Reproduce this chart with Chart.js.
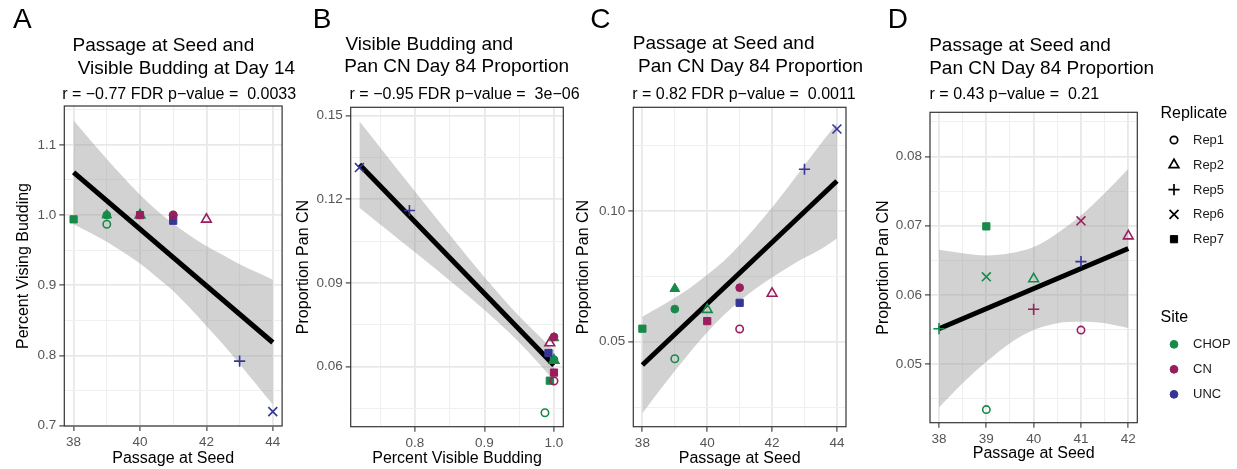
<!DOCTYPE html>
<html>
<head>
<meta charset="utf-8">
<script src="https://cdn.jsdelivr.net/npm/chart.js@4.4.1/dist/chart.umd.min.js"></script>
<style>
  body { margin: 0; background: #fff; width: 1237px; height: 469px; position: relative; overflow: hidden;
         font-family: "Liberation Sans", Arial, Helvetica, sans-serif; }
  canvas { position: absolute; top: 0; }
  .t { position: absolute; white-space: pre; line-height: 1; color: #000; }
  .letter { font-size: 28px; }
  .title { font-size: 19px; }
  .sub { font-size: 16px; }
</style>
</head>
<body>
<canvas id="chart-a" width="290" height="469" style="left:0px"></canvas>
<canvas id="chart-b" width="282" height="469" style="left:290px"></canvas>
<canvas id="chart-c" width="300" height="469" style="left:572px"></canvas>
<canvas id="chart-d" width="365" height="469" style="left:872px"></canvas>

<div class="t letter" style="left:13px;top:4.6px">A</div>
<div class="t title" style="left:72.5px;top:34.8px">Passage at Seed and</div>
<div class="t title" style="left:72.5px;top:57.5px"> Visible Budding at Day 14</div>
<div class="t sub" style="left:62.2px;top:85.6px">r = −0.77 FDR p−value =  0.0033</div>

<div class="t letter" style="left:312.8px;top:4.6px">B</div>
<div class="t title" style="left:345.5px;top:33.5px">Visible Budding and</div>
<div class="t title" style="left:344.2px;top:55.8px">Pan CN Day 84 Proportion</div>
<div class="t sub" style="left:349.6px;top:85.6px">r = −0.95 FDR p−value =  3e−06</div>

<div class="t letter" style="left:590.3px;top:4.6px">C</div>
<div class="t title" style="left:632.8px;top:32.5px">Passage at Seed and</div>
<div class="t title" style="left:632.8px;top:55.8px"> Pan CN Day 84 Proportion</div>
<div class="t sub" style="left:632.2px;top:85.6px">r = 0.82 FDR p−value =  0.0011</div>

<div class="t letter" style="left:887.8px;top:4.6px">D</div>
<div class="t title" style="left:929.2px;top:34.8px">Passage at Seed and</div>
<div class="t title" style="left:929.2px;top:57.5px">Pan CN Day 84 Proportion</div>
<div class="t sub" style="left:929.6px;top:85.6px">r = 0.43 p−value =  0.21</div>

<script>
/* ── Data: samples used in panels A-C ── */
const site    = ['CHOP', 'CHOP', 'CHOP', 'CHOP', 'CHOP', 'CN', 'CN', 'UNC', 'CN', 'CN', 'UNC', 'UNC'];
const rep     = ['Rep7', 'Rep4', 'Rep3', 'Rep1', 'Rep2', 'Rep7', 'Rep3', 'Rep7', 'Rep1', 'Rep2', 'Rep5', 'Rep6'];
const passage = [38, 39, 39, 39, 40, 40, 41, 41, 41, 42, 43, 44];
const budding = [0.994, 1.0, 1.0, 0.987, 1.0, 1.0, 1.0, 0.992, 1.0, 0.994, 0.792, 0.720];
const panCN   = [0.055, 0.0703, 0.0625, 0.0435, 0.0623, 0.0579, 0.0707, 0.0649, 0.0549, 0.0685, 0.116, 0.1314];

/* ── Data: samples used in panel D ── */
const siteD    = ['CHOP', 'CHOP', 'CHOP', 'CHOP', 'CHOP', 'CN', 'CN', 'UNC', 'CN', 'CN'];
const repD     = ['Rep5', 'Rep7', 'Rep6', 'Rep1', 'Rep2', 'Rep5', 'Rep6', 'Rep5', 'Rep1', 'Rep2'];
const passageD = [38, 39, 39, 39, 40, 40, 41, 41, 41, 42];
const panCND   = [0.0551, 0.0699, 0.0626, 0.0434, 0.0623, 0.0579, 0.0707, 0.0648, 0.0549, 0.0685];

/* ── Fitted lines and confidence bands ── */
const fitAx = [38, 44],      fitAy = [1.061, 0.8185];
const bandAx = [38, 38.5, 39, 39.5, 40, 40.5, 41, 41.5, 42, 42.5, 43, 43.5, 44];
const bandAup = [1.135, 1.107, 1.080, 1.054, 1.029, 1.007, 0.988, 0.971, 0.956, 0.943, 0.930, 0.919, 0.908];
const bandAlo = [0.987, 0.975, 0.962, 0.947, 0.931, 0.912, 0.892, 0.868, 0.842, 0.816, 0.788, 0.759, 0.730];

const fitBx = [0.72, 1.0],   fitBy = [0.1325, 0.0605];
const bandBx = [0.72, 0.76, 0.80, 0.85, 0.90, 0.95, 1.00];
const bandBup = [0.1480, 0.1354, 0.1228, 0.1073, 0.0921, 0.0781, 0.0659];
const bandBlo = [0.1170, 0.1090, 0.1010, 0.0909, 0.0803, 0.0687, 0.0551];

const fitCx = [38, 44],      fitCy = [0.0411, 0.1115];
const bandCx = [38, 38.5, 39, 39.5, 40, 40.5, 41, 41.5, 42, 42.5, 43, 43.5, 44];
const bandCup = [0.0596, 0.0631, 0.0668, 0.0709, 0.0756, 0.0808, 0.0870, 0.0940, 0.1014, 0.1093, 0.1175, 0.1258, 0.1335];
const bandClo = [0.0226, 0.0309, 0.0388, 0.0465, 0.0536, 0.0600, 0.0656, 0.0704, 0.0746, 0.0785, 0.0821, 0.0854, 0.0895];

const fitDx = [38, 42],      fitDy = [0.0551, 0.0667];
const bandDx = [38, 38.5, 39, 39.5, 40, 40.5, 41, 41.5, 42];
const bandDup = [0.0665, 0.0660, 0.0657, 0.0660, 0.0669, 0.0689, 0.0715, 0.0747, 0.0782];
const bandDlo = [0.0437, 0.0472, 0.0503, 0.0530, 0.0549, 0.0559, 0.0561, 0.0559, 0.0552];

/* ── Axis ticks ── */
const ticksPassage6  = [38, 40, 42, 44],            minorPassage6 = [39, 41, 43];
const ticksPassage4  = [38, 39, 40, 41, 42],        minorPassage4 = [38.5, 39.5, 40.5, 41.5];
const ticksBudY      = [0.7, 0.8, 0.9, 1.0, 1.1],   minorBudY = [0.75, 0.85, 0.95, 1.05, 1.15];
const ticksBudX      = [0.8, 0.9, 1.0],             minorBudX = [0.75, 0.85, 0.95];
const ticksPanB      = [0.06, 0.09, 0.12, 0.15],    minorPanB = [0.045, 0.075, 0.105, 0.135];
const ticksPanC      = [0.05, 0.10],                minorPanC = [0.025, 0.075, 0.125];
const ticksPanD      = [0.05, 0.06, 0.07, 0.08],    minorPanD = [0.045, 0.055, 0.065, 0.075, 0.085];

/* ── Legend entries ── */
const legendReps  = ['Rep1', 'Rep2', 'Rep5', 'Rep6', 'Rep7'];
const legendSites = ['CHOP', 'CN', 'UNC'];

/* ── Styles ── */
const FONT = '"Liberation Sans", Arial, Helvetica, sans-serif';
const SITE_COLORS = { CHOP: '#178a4a', CN: '#9a1e5e', UNC: '#363794' };
const SHAPES = {
  Rep1: { style: 'circle',   r: 3.7, fill: false },
  Rep2: { style: 'triangle', r: 5.6, fill: false },
  Rep3: { style: 'circle',   r: 3.9, fill: true },
  Rep4: { style: 'triangle', r: 5.6, fill: true },
  Rep5: { style: 'cross',    r: 5.6, fill: false },
  Rep6: { style: 'crossRot', r: 6.3, fill: false },
  Rep7: { style: 'rect',     r: 5.1, fill: true },
};
const BAND = 'rgba(150,150,150,0.43)';
const CLEAR = 'rgba(0,0,0,0)';

Chart.defaults.font.family = FONT;
Chart.defaults.animation = false;

/* ── Builders ── */
function xy(xs, ys) { return xs.map((x, i) => ({ x, y: ys[i] })); }

function pointSet(xs, ys, sites, reps) {
  return {
    type: 'scatter', order: 0,
    data: xy(xs, ys),
    pointStyle: reps.map(r => SHAPES[r].style),
    pointRadius: reps.map(r => SHAPES[r].r),
    pointBorderWidth: reps.map(r => SHAPES[r].fill ? 1 : 1.6),
    pointBorderColor: sites.map(s => SITE_COLORS[s]),
    pointBackgroundColor: sites.map((s, i) => SHAPES[reps[i]].fill ? SITE_COLORS[s] : CLEAR),
  };
}

function fitSet(xs, ys) {
  return { type: 'line', order: 1, data: xy(xs, ys), borderColor: '#000', borderWidth: 5,
           pointRadius: 0, fill: false };
}

function bandSets(xs, up, lo) {
  return [
    { type: 'line', order: 2, data: xy(xs, up), borderColor: CLEAR, borderWidth: 0, pointRadius: 0,
      fill: '+1', backgroundColor: BAND, cubicInterpolationMode: 'monotone' },
    { type: 'line', order: 3, data: xy(xs, lo), borderColor: CLEAR, borderWidth: 0, pointRadius: 0,
      fill: false, cubicInterpolationMode: 'monotone' },
  ];
}

function axis({ min, max, major, minor, digits, title, size, isY }) {
  const all = major.map(v => ({ value: v, isMajor: true }))
    .concat(minor.map(v => ({ value: v, isMajor: false })))
    .sort((a, b) => a.value - b.value);
  const isMaj = c => c.tick && c.tick.isMajor;
  return {
    type: 'linear', min, max, bounds: 'data',
    afterBuildTicks: s => { s.ticks = all.map(t => ({ ...t })); },
    afterFit: s => {
      if (isY) s.width = size; else s.height = size;
      s.paddingLeft = s.paddingRight = s.paddingTop = s.paddingBottom = 0;
    },
    ticks: {
      autoSkip: false, maxRotation: 0, padding: 3, color: '#555', font: { size: 13.5 },
      callback: (v, i, ticks) => ticks[i].isMajor ? Number(v).toFixed(digits) : '',
    },
    grid: {
      color: c => isMaj(c) ? '#e8e8e8' : '#efefef',
      lineWidth: c => isMaj(c) ? 1.8 : 1.1,
      tickColor: c => isMaj(c) ? '#333' : CLEAR,
      tickLength: 5, tickWidth: 1.1, drawTicks: true,
    },
    border: { display: false },
    title: { display: true, text: title, color: '#000', font: { size: 16 }, padding: 0 },
  };
}

/* ── Plugins ── */
const panelBox = {
  id: 'panelBox',
  afterDraw(chart) {
    const { ctx, chartArea: a } = chart;
    ctx.save();
    ctx.strokeStyle = '#333';
    ctx.lineWidth = 1.2;
    ctx.strokeRect(a.left, a.top, a.right - a.left, a.bottom - a.top);
    ctx.restore();
  }
};

const legendD = {
  id: 'legendD',
  afterDraw(chart) {
    const ctx = chart.ctx;
    const ox = 872;
    ctx.save();
    ctx.fillStyle = '#000';
    ctx.font = '16px ' + FONT;
    ctx.textBaseline = 'alphabetic';
    ctx.fillText('Replicate', 1160.5 - ox, 117.5);
    ctx.fillText('Site', 1160.5 - ox, 322.2);

    ctx.font = '13px ' + FONT;
    ctx.textBaseline = 'middle';
    legendReps.forEach((r, i) => {
      const y = 140 + i * 24.8;
      const s = SHAPES[r];
      ctx.strokeStyle = '#000';
      ctx.fillStyle = s.fill ? '#000' : CLEAR;
      ctx.lineWidth = s.fill ? 1 : 1.7;
      Chart.helpers.drawPoint(ctx, { pointStyle: s.style, radius: s.r, borderWidth: ctx.lineWidth, rotation: 0 },
                              1174 - ox, y);
      ctx.fillStyle = '#1a1a1a';
      ctx.fillText(r, 1193 - ox, y + 0.5);
    });
    legendSites.forEach((s, i) => {
      const y = 344.3 + i * 25;
      ctx.fillStyle = SITE_COLORS[s];
      ctx.strokeStyle = SITE_COLORS[s];
      ctx.lineWidth = 1;
      Chart.helpers.drawPoint(ctx, { pointStyle: 'circle', radius: 3.9, borderWidth: 1, rotation: 0 },
                              1174 - ox, y);
      ctx.fillStyle = '#1a1a1a';
      ctx.fillText(s, 1193 - ox, y + 0.5);
    });
    ctx.restore();
  }
};

function makeChart(id, datasets, xAxis, yAxis, pad, extra) {
  return new Chart(document.getElementById(id), {
    type: 'scatter',
    data: { datasets },
    options: {
      responsive: false,
      layout: { padding: pad },
      scales: { x: xAxis, y: yAxis },
      plugins: { legend: { display: false }, tooltip: { enabled: false } },
    },
    plugins: [panelBox].concat(extra || []),
  });
}

/* ── Panel A ── */
makeChart('chart-a',
  [pointSet(passage, budding, site, rep), fitSet(fitAx, fitAy), ...bandSets(bandAx, bandAup, bandAlo)],
  axis({ min: 37.72, max: 44.28, major: ticksPassage6, minor: minorPassage6, digits: 0,
         title: 'Passage at Seed', size: 42 }),
  axis({ min: 0.6995, max: 1.1555, major: ticksBudY, minor: minorBudY, digits: 1,
         title: 'Percent Vising Budding', size: 50.1, isY: true }),
  { left: 14.2, top: 106, right: 4.3, bottom: 1 });

/* ── Panel B ── */
makeChart('chart-b',
  [pointSet(budding, panCN, site, rep), fitSet(fitBx, fitBy), ...bandSets(bandBx, bandBup, bandBlo)],
  axis({ min: 0.7075, max: 1.0134, major: ticksBudX, minor: minorBudX, digits: 1,
         title: 'Percent Visible Budding', size: 41.3 }),
  axis({ min: 0.0385, max: 0.153, major: ticksPanB, minor: minorPanB, digits: 2,
         title: 'Proportion Pan CN', size: 57.1, isY: true }),
  { left: 3.6, top: 107.3, right: 8.7, bottom: 1 });

/* ── Panel C ── */
makeChart('chart-c',
  [pointSet(passage, panCN, site, rep), fitSet(fitCx, fitCy), ...bandSets(bandCx, bandCup, bandClo)],
  axis({ min: 37.72, max: 44.28, major: ticksPassage6, minor: minorPassage6, digits: 0,
         title: 'Passage at Seed', size: 41.3 }),
  axis({ min: 0.0175, max: 0.1397, major: ticksPanC, minor: minorPanC, digits: 2,
         title: 'Proportion Pan CN', size: 59.7, isY: true }),
  { left: 1.6, top: 107.3, right: 26, bottom: 1 });

/* ── Panel D ── */
makeChart('chart-d',
  [pointSet(passageD, panCND, siteD, repD), fitSet(fitDx, fitDy), ...bandSets(bandDx, bandDup, bandDlo)],
  axis({ min: 37.81, max: 42.19, major: ticksPassage4, minor: minorPassage4, digits: 0,
         title: 'Passage at Seed', size: 40.2 }),
  axis({ min: 0.0415, max: 0.0864, major: ticksPanD, minor: minorPanD, digits: 2,
         title: 'Proportion Pan CN', size: 55.8, isY: true }),
  { left: 2.2, top: 112.3, right: 99.7, bottom: 6.1 },
  [legendD]);
</script>
</body>
</html>
